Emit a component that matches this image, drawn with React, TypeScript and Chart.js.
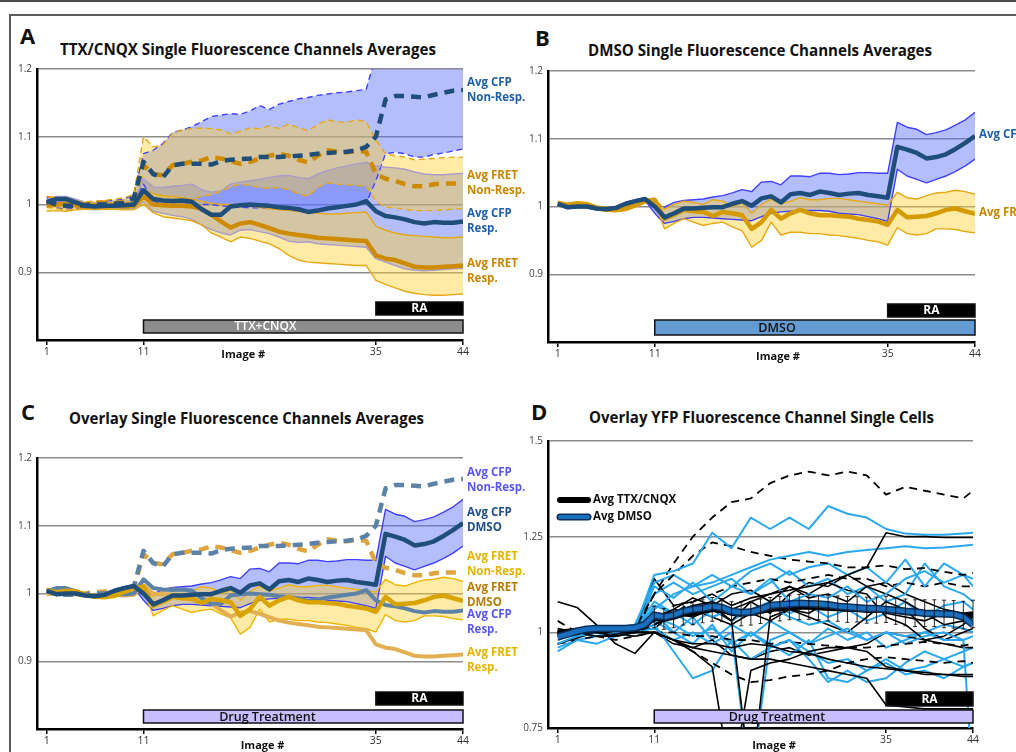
import React, { useEffect, useLayoutEffect, useRef } from 'react';
import { Chart, registerables } from 'chart.js';

Chart.register(...registerables);

const FONT = '"Open Sans", "Noto Sans", sans-serif';
Chart.defaults.font.family = FONT;

// ---------- categories / ticks ----------
const IMAGES = [1,2,3,4,5,6,7,8,9,10,11,12,13,14,15,16,17,18,19,20,21,22,23,24,25,26,27,28,29,30,31,32,33,34,35,36,37,38,39,40,41,42,43,44];
const CELL_IMAGES = [1,3,5,7,9,11,13,15,17,19,21,23,25,27,29,31,33,35,37,39,41,43,44];
const X_TICKS = [1, 11, 35, 44];
const Y_TICKS_AVG = [0.9, 1, 1.1, 1.2];
const Y_TICKS_CELLS = [0.75, 1, 1.25, 1.5];
const DRUG_START = 11;
const RA_START = 35;
const LAST_IMAGE = 44;

// ---------- Panel A: TTX/CNQX averages ----------
const A_CFP_NR = [1.005,1.0,0.998,0.998,0.999,1.0,1.0,1.001,1.002,1.01, 1.063,1.045,1.04,1.058,1.06,1.06,1.06,1.059,1.064,1.066, 1.067,1.068,1.07,1.07,1.07,1.071,1.072,1.073,1.075,1.076, 1.077,1.078,1.08,1.085,1.1,1.155,1.16,1.16,1.159,1.158, 1.162,1.165,1.168,1.169];
const A_CFP_NR_HI = [1.01,1.008,1.006,1.004,1.003,1.004,1.005,1.006,1.008,1.015, 1.075,1.08,1.09,1.106,1.11,1.115,1.122,1.13,1.132,1.134, 1.133,1.138,1.146,1.14,1.148,1.152,1.156,1.158,1.161,1.163, 1.165,1.166,1.168,1.17,1.22,1.23,1.23,1.23,1.23,1.23, 1.23,1.23,1.23,1.23];
const A_CFP_NR_LO = [0.998,0.995,0.993,0.994,0.996,0.997,0.996,0.997,0.997,1.0, 1.03,1.005,1.0,1.0,1.0,1.0,1.0,1.0,0.998,0.997, 0.996,0.995,0.995,0.994,0.993,0.992,0.99,0.99,0.992,0.994, 0.996,0.997,0.999,1.002,1.035,1.075,1.077,1.075,1.07,1.07, 1.074,1.076,1.079,1.082];
const A_FRET_NR = [1.003,1.0,0.998,0.999,1.0,1.002,1.003,1.002,1.004,1.008, 1.058,1.045,1.043,1.058,1.06,1.063,1.065,1.07,1.068,1.064, 1.06,1.063,1.068,1.072,1.075,1.072,1.066,1.062,1.072,1.08, 1.078,1.077,1.079,1.078,1.045,1.038,1.035,1.03,1.027,1.027, 1.03,1.031,1.031,1.031];
const A_FRET_NR_HI = [1.012,1.01,1.008,1.005,1.004,1.005,1.006,1.008,1.01,1.015, 1.1,1.085,1.088,1.105,1.11,1.112,1.113,1.112,1.11,1.104, 1.108,1.113,1.112,1.116,1.112,1.119,1.113,1.109,1.118,1.125, 1.122,1.121,1.125,1.122,1.095,1.075,1.072,1.07,1.066,1.067, 1.068,1.069,1.07,1.07];
const A_FRET_NR_LO = [0.996,0.994,0.992,0.993,0.994,0.995,0.996,0.996,0.996,0.998, 1.0,0.998,1.0,1.001,1.004,1.008,1.012,1.014,1.02,1.026, 1.03,1.028,1.025,1.024,1.025,1.022,1.016,1.012,1.025,1.032, 1.03,1.029,1.028,1.027,1.005,0.996,0.995,0.993,0.991,0.991, 0.991,0.992,0.993,0.994];
const A_CFP_R = [1.003,1.008,1.008,1.003,0.998,0.997,0.998,0.998,0.999,1.0, 1.021,1.008,1.006,1.005,1.006,1.004,0.993,0.985,0.985,0.997, 0.999,1.0,0.999,0.998,0.996,0.995,0.993,0.989,0.991,0.994, 0.996,0.998,1.0,1.005,0.99,0.983,0.981,0.978,0.974,0.972, 0.974,0.973,0.973,0.975];
const A_CFP_R_HI = [1.008,1.012,1.012,1.008,1.003,1.002,1.003,1.003,1.004,1.006, 1.038,1.026,1.025,1.027,1.028,1.03,1.022,1.018,1.02,1.03, 1.033,1.035,1.037,1.04,1.042,1.043,1.04,1.038,1.045,1.05, 1.054,1.057,1.06,1.062,1.057,1.055,1.054,1.052,1.048,1.045, 1.044,1.044,1.045,1.046];
const A_CFP_R_LO = [0.998,1.004,1.004,0.998,0.993,0.992,0.993,0.993,0.994,0.994, 1.004,0.99,0.987,0.984,0.982,0.978,0.97,0.963,0.958,0.955, 0.962,0.963,0.96,0.957,0.952,0.946,0.944,0.945,0.942,0.941, 0.94,0.939,0.938,0.937,0.92,0.915,0.91,0.905,0.903,0.902, 0.903,0.904,0.905,0.906];
const A_FRET_R = [0.999,1.0,1.001,0.999,0.997,0.998,0.997,0.998,0.997,0.998, 1.012,1.0,0.999,0.998,0.998,0.997,0.994,0.985,0.975,0.966, 0.972,0.974,0.97,0.965,0.96,0.957,0.955,0.953,0.951,0.95, 0.949,0.948,0.947,0.946,0.925,0.92,0.918,0.913,0.908,0.907, 0.907,0.908,0.909,0.91];
const A_FRET_R_HI = [1.012,1.01,1.008,1.004,1.002,1.002,1.002,1.003,1.003,1.004, 1.022,1.016,1.013,1.012,1.01,1.008,1.005,1.002,1.0,1.0, 1.0,0.998,0.996,0.994,0.992,0.991,0.99,0.989,0.987,0.986, 0.986,0.987,0.988,0.989,0.968,0.962,0.958,0.955,0.954,0.953, 0.952,0.951,0.951,0.952];
const A_FRET_R_LO = [0.99,0.991,0.99,0.992,0.993,0.993,0.993,0.993,0.992,0.992, 1.0,0.988,0.982,0.98,0.978,0.976,0.97,0.958,0.952,0.945, 0.952,0.95,0.946,0.942,0.935,0.925,0.918,0.915,0.914,0.913, 0.912,0.911,0.91,0.91,0.888,0.882,0.877,0.872,0.869,0.867, 0.866,0.866,0.867,0.868];

// ---------- Panel B: DMSO averages ----------
const B_CFP = [1.004,0.999,1.0,1.0,0.997,0.996,0.998,1.004,1.008,1.011, 1.0,0.984,0.99,0.997,0.997,0.998,0.999,0.999,1.004,1.008, 1.001,1.012,1.015,1.006,1.018,1.02,1.017,1.022,1.02,1.017, 1.019,1.02,1.017,1.015,1.013,1.088,1.084,1.079,1.071,1.073, 1.077,1.085,1.094,1.104];
const B_CFP_HI = [1.006,1.001,1.002,1.002,0.999,0.998,1.0,1.006,1.01,1.013, 1.003,0.999,1.006,1.009,1.01,1.011,1.014,1.016,1.02,1.025, 1.022,1.036,1.037,1.032,1.045,1.045,1.044,1.049,1.049,1.047, 1.048,1.05,1.05,1.049,1.049,1.124,1.117,1.114,1.106,1.109, 1.113,1.12,1.128,1.139];
const B_CFP_LO = [1.002,0.997,0.998,0.998,0.995,0.994,0.996,1.002,1.006,1.009, 0.99,0.975,0.978,0.982,0.984,0.984,0.983,0.982,0.981,0.98, 0.979,0.985,0.99,0.992,0.993,0.994,0.994,0.994,0.993,0.99, 0.989,0.988,0.985,0.982,0.978,1.055,1.045,1.04,1.035,1.04, 1.045,1.052,1.06,1.07];
const B_FRET = [1.005,1.002,1.004,1.003,0.998,0.996,0.995,0.997,1.002,1.008, 1.01,0.982,0.988,0.995,0.993,0.992,0.986,0.992,0.99,0.987, 0.967,0.977,0.995,0.982,0.99,0.995,0.99,0.987,0.987,0.986, 0.985,0.982,0.98,0.978,0.973,0.995,0.984,0.985,0.986,0.99, 0.995,0.997,0.993,0.989];
const B_FRET_HI = [1.008,1.005,1.007,1.006,1.001,0.999,0.998,1.0,1.005,1.011, 1.012,0.996,1.003,1.008,1.006,1.003,1.01,1.008,1.0,1.005, 0.99,1.003,1.011,1.004,1.008,1.013,1.01,1.01,1.012,1.012, 1.01,1.008,1.006,1.004,1.002,1.021,1.013,1.011,1.016,1.02, 1.021,1.024,1.022,1.018];
const B_FRET_LO = [1.002,0.999,1.001,1.0,0.995,0.993,0.992,0.994,0.999,1.005, 1.006,0.967,0.975,0.982,0.977,0.972,0.975,0.977,0.97,0.964, 0.94,0.95,0.977,0.958,0.962,0.962,0.96,0.96,0.958,0.957, 0.955,0.953,0.95,0.948,0.943,0.969,0.96,0.958,0.96,0.967, 0.967,0.966,0.963,0.961];

// ---------- Panel D: YFP single cells ----------
const D_AVG_TTX = [1.0,1.002,1.004,1.006,1.008,1.008,1.008,1.008,1.01,1.015, 1.04,1.035,1.04,1.048,1.05,1.055,1.06,1.058,1.05,1.048, 1.05,1.055,1.06,1.062,1.065,1.066,1.066,1.065,1.063,1.062, 1.06,1.06,1.058,1.058,1.06,1.055,1.052,1.05,1.05,1.05, 1.048,1.047,1.045,1.048];
const D_ERR_TTX = [0.008,0.008,0.008,0.008,0.008,0.008,0.008,0.009,0.009,0.01, 0.028,0.027,0.028,0.029,0.03,0.03,0.031,0.03,0.03,0.031, 0.031,0.032,0.031,0.032,0.032,0.033,0.032,0.032,0.033,0.033, 0.034,0.033,0.034,0.034,0.034,0.034,0.035,0.035,0.035,0.035, 0.036,0.036,0.036,0.036];
const D_AVG_DMSO = [0.988,0.995,1.003,1.008,1.01,1.01,1.01,1.01,1.012,1.02, 1.045,1.04,1.045,1.055,1.06,1.063,1.068,1.065,1.055,1.052, 1.053,1.06,1.07,1.072,1.074,1.076,1.075,1.074,1.072,1.068, 1.066,1.064,1.062,1.062,1.06,1.058,1.055,1.053,1.05,1.049, 1.048,1.047,1.04,1.02];

const TTX_DASHED_CELLS = [
  [1.0,1.0,1.0,1.0,1.01,1.1,1.18,1.25,1.3,1.34,1.35,1.39,1.41,1.42,1.41,1.42,1.41,1.36,1.38,1.37,1.36,1.35,1.37],
  [0.99,0.995,1.0,1.0,1.0,1.1,1.15,1.2,1.235,1.225,1.21,1.2,1.19,1.185,1.18,1.17,1.17,1.175,1.165,1.168,1.158,1.15,1.155],
  [1.03,1.0,0.99,0.98,0.99,1.0,0.98,0.95,0.92,0.89,0.87,0.875,0.885,0.89,0.9,0.92,0.93,0.935,0.93,0.925,0.92,0.925,0.92],
  [1.0,1.0,1.0,1.0,1.0,1.02,1.05,1.08,1.1,1.12,1.13,1.14,1.13,1.14,1.15,1.14,1.14,1.12,1.13,1.12,1.13,1.12,1.12],
  [0.97,0.98,0.99,0.99,1.0,1.0,1.0,0.99,0.99,0.98,0.98,0.97,0.975,0.97,0.965,0.96,0.96,0.965,0.97,0.975,0.97,0.965,0.97],
];
const TTX_SOLID_CELLS = [
  [1.0,1.0,1.0,0.99,1.0,1.03,1.05,1.07,1.08,1.06,1.08,1.1,1.11,1.12,1.13,1.15,1.17,1.26,1.25,1.25,1.248,1.248,1.248],
  [1.0,1.0,0.99,0.99,1.0,1.0,0.98,0.95,0.91,0.6,0.9,0.92,0.93,0.95,0.96,0.96,0.95,0.91,0.9,0.89,0.89,0.885,0.885],
  [1.01,1.0,1.0,1.0,1.01,1.04,1.06,1.05,1.07,1.03,0.6,1.04,1.06,1.05,1.08,1.06,1.07,1.05,1.04,1.03,1.05,1.04,1.05],
  [1.0,1.0,1.0,1.0,1.0,1.0,0.98,0.96,0.95,0.94,0.93,0.93,0.92,0.91,0.9,0.89,0.88,0.81,0.805,0.8,0.8,0.8,0.8],
  [1.08,1.065,1.02,0.97,0.945,1.0,0.98,0.97,0.97,0.96,0.97,0.965,0.95,0.945,0.93,0.92,0.91,0.905,0.9,0.895,0.89,0.89,0.89],
  [0.97,0.985,1.0,0.995,1.0,1.14,1.07,1.08,1.1,1.07,1.09,1.1,1.12,1.09,1.1,1.08,1.12,1.1,1.08,1.05,1.02,1.03,1.04],
  [1.0,0.995,1.0,1.005,1.01,1.03,1.06,1.09,1.07,1.1,1.11,1.08,1.12,1.1,1.13,1.11,1.1,1.04,1.02,0.98,0.99,1.02,1.04],
  [0.99,0.995,1.0,1.0,1.0,1.02,1.04,1.06,1.04,1.02,1.05,1.03,1.06,1.04,1.02,1.0,1.04,1.08,1.06,1.01,0.98,1.0,1.01],
  [1.0,1.0,1.0,0.995,0.99,1.0,0.97,0.96,0.98,0.94,0.93,0.95,0.96,0.94,0.95,0.96,0.97,1.0,0.99,0.98,0.97,0.96,0.96],
  [1.0,1.0,1.0,1.0,1.005,1.01,1.05,1.04,1.06,1.03,1.08,1.05,1.1,1.13,1.12,1.15,1.12,1.13,1.1,1.08,1.06,1.05,1.05],
];
const DMSO_CELLS = [
  [0.98,1.0,1.01,1.0,1.01,1.15,1.16,1.18,1.26,1.22,1.3,1.27,1.3,1.27,1.33,1.31,1.3,1.27,1.258,1.255,1.255,1.258,1.26],
  [1.0,1.0,1.0,1.01,1.02,1.06,1.1,1.12,1.13,1.15,1.17,1.19,1.2,1.21,1.2,1.21,1.215,1.22,1.225,1.22,1.222,1.226,1.229],
  [0.97,0.99,1.0,1.0,1.02,1.13,1.15,1.12,1.15,1.12,1.16,1.18,1.15,1.17,1.18,1.15,1.17,1.13,1.19,1.12,1.18,1.15,1.14],
  [0.95,0.98,0.97,0.99,1.0,1.12,1.09,1.13,1.08,1.12,1.1,1.14,1.08,1.1,1.09,1.12,1.08,1.1,1.14,1.16,1.13,1.15,1.12],
  [1.0,1.0,0.99,1.0,1.0,1.02,0.95,0.88,0.9,0.98,0.93,0.96,0.98,0.95,0.92,0.93,0.9,0.93,0.9,0.91,0.93,0.91,0.92],
  [1.0,0.99,1.0,1.0,1.0,1.01,0.98,1.0,0.97,1.0,0.6,0.98,1.0,0.97,0.99,1.01,0.98,1.0,0.97,0.99,1.0,0.98,0.99],
  [0.98,1.0,1.0,1.0,1.01,1.08,1.05,1.07,1.04,1.06,1.05,1.07,1.04,1.02,1.03,1.0,0.98,1.0,0.99,1.0,0.98,0.98,0.6],
  [0.97,0.99,1.0,0.99,1.0,1.05,1.0,0.97,1.02,0.95,1.0,0.97,0.94,0.98,0.88,0.87,0.9,0.92,0.89,0.9,0.88,0.91,0.92],
  [1.0,1.01,1.0,1.01,1.02,1.1,1.13,1.1,1.12,1.14,1.1,1.13,1.16,1.12,1.14,1.1,1.12,1.08,1.1,1.18,1.12,1.1,1.08],
  [0.96,0.98,0.99,1.0,1.0,1.03,1.0,1.04,0.98,1.02,0.99,1.03,1.0,0.97,1.01,0.98,1.0,0.96,0.98,1.0,1.02,1.01,1.0],
  [0.99,1.0,1.01,1.0,1.0,1.07,1.05,1.02,1.06,1.03,1.06,1.08,1.05,1.07,1.04,1.06,1.03,1.05,1.08,1.04,1.07,1.08,1.06],
  [1.0,0.99,1.0,1.0,1.0,1.04,1.02,0.99,1.01,0.97,1.0,0.96,0.98,0.93,0.87,0.9,0.87,0.88,0.92,0.95,0.93,0.95,0.96],
];

// ---------- styles ----------
const NAVY = '#1f4e7a';
const GOLD = '#cf8b00';
const GOLD_THIN = '#e6a815';
const BLUE_EDGE = '#4040ff';
const LAVENDER = '#a99cc8';
const BLUE_FILL = 'rgba(90,110,250,0.45)';
const YELLOW_FILL = 'rgba(255,208,40,0.42)';
const SLATE = '#5d82a8';
const LIGHT_GOLD = '#e2b052';
const CELL_BLUE = '#2aa8f0';
const DMSO_AVG = '#1a70bf';

function pts(values: number[], xs: number[] = IMAGES) {
  return values.map((v, i) => ({ x: xs[i], y: v }));
}

function line(values: number[], color: string, width: number, extra: any = {}, xs: number[] = IMAGES) {
  return {
    data: pts(values, xs),
    borderColor: color,
    backgroundColor: color,
    borderWidth: width,
    pointRadius: 0,
    tension: 0,
    fill: false,
    clip: 0,
    borderJoinStyle: 'round',
    ...extra,
  };
}

function band(hi: number[], lo: number[], edge: string, fillColor: string, width: number, dash: number[] = []) {
  return [
    line(hi, edge, width, { fill: '+1', backgroundColor: fillColor, borderDash: dash }),
    line(lo, edge, width, { borderDash: dash }),
  ];
}

function axes(min: number, max: number, yTicks: number[]) {
  return {
    x: {
      type: 'linear',
      min: 0,
      max: LAST_IMAGE,
      afterBuildTicks: (s: any) => { s.ticks = X_TICKS.map((v) => ({ value: v })); },
      afterFit: (s: any) => { s.height = 20; },
      border: { display: true, color: '#000', width: 2.5 },
      grid: { drawOnChartArea: false, drawTicks: true, tickLength: 5, color: '#000', lineWidth: 1.5 },
      ticks: { font: { size: 10.5 }, color: '#333', padding: 1, maxRotation: 0, autoSkip: false },
    },
    y: {
      type: 'linear',
      min,
      max,
      afterBuildTicks: (s: any) => { s.ticks = yTicks.map((v) => ({ value: v })); },
      afterFit: (s: any) => { s.width = 37; },
      border: { display: true, color: '#000', width: 2.5 },
      grid: { color: '#8c8c8c', lineWidth: 1.5, drawTicks: false },
      ticks: { font: { size: 10 }, color: '#444', padding: 5, callback: (v: number) => String(Math.round(v * 100) / 100) },
    },
  };
}

function decor(spec: any) {
  return {
    id: 'decor',
    afterDatasetsDraw(chart: any) {
      const { ctx, chartArea: a, scales } = chart;
      const x = scales.x, y = scales.y;
      ctx.save();
      // error bars
      (spec.errorBars || []).forEach((eb: any) => {
        ctx.strokeStyle = '#111';
        ctx.lineWidth = 0.9;
        IMAGES.forEach((xv, i) => {
          if (xv < eb.from) return;
          const px = x.getPixelForValue(xv);
          const yt = y.getPixelForValue(eb.mean[i] + eb.err[i]);
          const yb = y.getPixelForValue(eb.mean[i] - eb.err[i]);
          ctx.beginPath();
          ctx.moveTo(px, yt); ctx.lineTo(px, yb);
          ctx.moveTo(px - 2, yt); ctx.lineTo(px + 2, yt);
          ctx.moveTo(px - 2, yb); ctx.lineTo(px + 2, yb);
          ctx.stroke();
        });
      });
      // treatment bars
      (spec.bars || []).forEach((b: any) => {
        const x0 = x.getPixelForValue(b.from);
        const x1 = x.getPixelForValue(b.to);
        const top = a.bottom + b.top;
        ctx.fillStyle = b.fill;
        ctx.fillRect(x0, top, x1 - x0, b.h);
        ctx.strokeStyle = '#111';
        ctx.lineWidth = 1.5;
        ctx.strokeRect(x0, top, x1 - x0, b.h);
        ctx.fillStyle = b.color;
        ctx.font = `${b.weight || 600} ${b.size || 12}px ${FONT}`;
        ctx.textAlign = 'center';
        ctx.textBaseline = 'middle';
        const tx = b.textAt != null ? x.getPixelForValue(b.textAt) : (x0 + x1) / 2;
        ctx.fillText(b.text, tx, top + b.h / 2 + 0.5);
      });
      // end labels
      (spec.labels || []).forEach((lb: any) => {
        const yv = lb.series[lb.series.length - 1];
        const cy = y.getPixelForValue(yv) + (lb.dy || 0);
        ctx.fillStyle = lb.color;
        ctx.font = `bold 11.5px ${FONT}`;
        ctx.textAlign = 'left';
        ctx.textBaseline = 'middle';
        const n = lb.lines.length;
        lb.lines.forEach((t: string, k: number) => ctx.fillText(t, a.right + 4, cy + (k - (n - 1) / 2) * 15));
      });
      // axis title
      ctx.fillStyle = '#111';
      ctx.font = `bold 11px ${FONT}`;
      ctx.textAlign = 'center';
      ctx.textBaseline = 'middle';
      ctx.fillText('Image #', x.getPixelForValue(spec.titleAt), a.bottom + spec.titleDy);
      // legend
      (spec.legend || []).forEach((lg: any, k: number) => {
        const lx = a.left + 12, ly = a.top + 59 + k * 17;
        ctx.lineCap = 'round';
        if (lg.outline) {
          ctx.strokeStyle = lg.outline; ctx.lineWidth = 7;
          ctx.beginPath(); ctx.moveTo(lx, ly); ctx.lineTo(lx + 28, ly); ctx.stroke();
        }
        ctx.strokeStyle = lg.color; ctx.lineWidth = lg.outline ? 4 : 6;
        ctx.beginPath(); ctx.moveTo(lx, ly); ctx.lineTo(lx + 28, ly); ctx.stroke();
        ctx.fillStyle = '#111';
        ctx.font = `bold 11.5px ${FONT}`;
        ctx.textAlign = 'left';
        ctx.fillText(lg.text, lx + 33, ly);
      });
      ctx.restore();
    },
  };
}

function buildConfig(datasets: any[], yMin: number, yMax: number, yTicks: number[], padding: any, spec: any) {
  return {
    type: 'line',
    data: { datasets },
    options: {
      responsive: false,
      maintainAspectRatio: false,
      animation: false,
      events: [],
      layout: { padding },
      plugins: {
        legend: { display: false },
        tooltip: { enabled: false },
        filler: { drawTime: 'beforeDatasetsDraw', propagate: false },
      },
      scales: axes(yMin, yMax, yTicks),
    },
    plugins: [decor(spec)],
  };
}

function padFor(box: any, area: any) {
  return {
    left: area.l - box.left - 37,
    top: area.t - box.top,
    right: box.left + box.w - area.r,
    bottom: box.top + box.h - area.b - 20,
  };
}

const RA_BAR = { from: RA_START, to: LAST_IMAGE, top: -38, h: 13, fill: '#000', color: '#fff', text: 'RA', weight: 700 };

function chartA(box: any) {
  const ds = [
    line(A_CFP_NR, NAVY, 4.5, { borderDash: [10, 7] }),
    line(A_CFP_R, NAVY, 4.5),
    line(A_FRET_NR, GOLD, 4.5, { borderDash: [10, 7] }),
    line(A_FRET_R, GOLD, 4.5),
    ...band(A_FRET_R_HI, A_FRET_R_LO, GOLD_THIN, YELLOW_FILL, 1.4),
    ...band(A_FRET_NR_HI, A_FRET_NR_LO, GOLD_THIN, YELLOW_FILL, 1.4, [6, 4]),
    ...band(A_CFP_R_HI, A_CFP_R_LO, LAVENDER, BLUE_FILL, 1.4),
    ...band(A_CFP_NR_HI, A_CFP_NR_LO, BLUE_EDGE, BLUE_FILL, 1.4, [6, 4]),
  ];
  const spec = {
    bars: [RA_BAR, { from: DRUG_START, to: LAST_IMAGE, top: -20, h: 13, fill: '#8c8c8c', color: '#fff', text: 'TTX+CNQX', textAt: 23.6 }],
    labels: [
      { lines: ['Avg CFP', 'Non-Resp.'], color: '#2060aa', series: A_CFP_NR, dy: 0 },
      { lines: ['Avg FRET', 'Non-Resp.'], color: '#c98600', series: A_FRET_NR, dy: 0 },
      { lines: ['Avg CFP', 'Resp.'], color: '#2060aa', series: A_CFP_R, dy: 0 },
      { lines: ['Avg FRET', 'Resp.'], color: '#c98600', series: A_FRET_R, dy: 6 },
    ],
    titleAt: 21.3, titleDy: 15,
  };
  return buildConfig(ds, 0.8, 1.2, Y_TICKS_AVG, padFor(box, { l: 37, t: 69, r: 463, b: 340 }), spec);
}

function chartB(box: any) {
  const ds = [
    line(B_CFP, NAVY, 4.5),
    line(B_FRET, '#d49a00', 4.5),
    ...band(B_FRET_HI, B_FRET_LO, GOLD_THIN, YELLOW_FILL, 1.4),
    ...band(B_CFP_HI, B_CFP_LO, BLUE_EDGE, BLUE_FILL, 1.4),
  ];
  const spec = {
    bars: [RA_BAR, { from: DRUG_START, to: LAST_IMAGE, top: -22, h: 15, fill: '#649bd2', color: '#111', text: 'DMSO', textAt: 23.6, size: 12.5 }],
    labels: [
      { lines: ['Avg CFP'], color: '#2060aa', series: B_CFP, dy: -1 },
      { lines: ['Avg FRET'], color: '#c98600', series: B_FRET, dy: -1 },
    ],
    titleAt: 23.7, titleDy: 15,
  };
  return buildConfig(ds, 0.8, 1.2, Y_TICKS_AVG, padFor(box, { l: 548, t: 71, r: 975, b: 342 }), spec);
}

function chartC(box: any) {
  const ds = [
    line(B_CFP, NAVY, 4.5),
    line(B_FRET, '#d9a300', 4.5),
    line(A_CFP_R, SLATE, 4),
    line(A_FRET_R, LIGHT_GOLD, 4),
    line(A_CFP_NR, SLATE, 4.5, { borderDash: [10, 7] }),
    line(A_FRET_NR, '#dfa640', 4.5, { borderDash: [10, 7] }),
    ...band(B_FRET_HI, B_FRET_LO, '#f0b500', YELLOW_FILL, 1.4),
    ...band(B_CFP_HI, B_CFP_LO, BLUE_EDGE, BLUE_FILL, 1.4),
  ];
  const spec = {
    bars: [{ ...RA_BAR, top: -37 }, { from: DRUG_START, to: LAST_IMAGE, top: -19, h: 13, fill: '#c8beff', color: '#111', text: 'Drug Treatment', textAt: 23.8, size: 12.5 }],
    labels: [
      { lines: ['Avg CFP', 'Non-Resp.'], color: '#5858f0', series: A_CFP_NR, dy: 1 },
      { lines: ['Avg CFP', 'DMSO'], color: '#1f4e8c', series: B_CFP, dy: -3 },
      { lines: ['Avg FRET', 'Non-Resp.'], color: '#e6b400', series: A_FRET_NR, dy: -8 },
      { lines: ['Avg FRET', 'DMSO'], color: '#b87a00', series: B_FRET, dy: -6 },
      { lines: ['Avg CFP', 'Resp.'], color: '#5858f0', series: A_CFP_R, dy: 12 },
      { lines: ['Avg FRET', 'Resp.'], color: '#e6b400', series: A_FRET_R, dy: 6 },
    ],
    titleAt: 23.3, titleDy: 17,
  };
  return buildConfig(ds, 0.8, 1.2, Y_TICKS_AVG, padFor(box, { l: 37, t: 458, r: 463, b: 729 }), spec);
}

function chartD(box: any) {
  const cells: any[] = [];
  const n = Math.max(DMSO_CELLS.length, TTX_SOLID_CELLS.length);
  for (let i = 0; i < n; i++) {
    if (TTX_SOLID_CELLS[i]) cells.push(line(TTX_SOLID_CELLS[i], '#000', 1.6, {}, CELL_IMAGES));
    if (DMSO_CELLS[i]) cells.push(line(DMSO_CELLS[i], CELL_BLUE, 2, {}, CELL_IMAGES));
    if (TTX_DASHED_CELLS[i]) cells.push(line(TTX_DASHED_CELLS[i], '#000', 1.8, { borderDash: [8, 6] }, CELL_IMAGES));
  }
  const ds = [
    line(D_AVG_DMSO, DMSO_AVG, 4.5),
    line(D_AVG_DMSO, '#0b2f5a', 7.5),
    line(D_AVG_TTX, '#000', 5.5),
    ...cells,
  ];
  const spec = {
    errorBars: [{ mean: D_AVG_TTX, err: D_ERR_TTX, from: DRUG_START }],
    bars: [{ ...RA_BAR, top: -36, h: 14 }, { from: DRUG_START, to: LAST_IMAGE, top: -18, h: 13, fill: '#c8beff', color: '#111', text: 'Drug Treatment', textAt: 23.7, size: 12.5 }],
    legend: [
      { text: 'Avg TTX/CNQX', color: '#000' },
      { text: 'Avg DMSO', color: DMSO_AVG, outline: '#0b2f5a' },
    ],
    titleAt: 23.4, titleDy: 18,
  };
  return buildConfig(ds, 0.75, 1.5, Y_TICKS_CELLS, padFor(box, { l: 548, t: 441, r: 973, b: 728 }), spec);
}

function ChartPanel({ box, build }: any) {
  const ref = useRef<HTMLCanvasElement>(null);
  useEffect(() => {
    const chart = new Chart(ref.current as any, build(box) as any);
    return () => chart.destroy();
  }, []);
  return (
    <canvas
      ref={ref}
      width={box.w}
      height={box.h}
      style={{ position: 'absolute', left: box.left, top: box.top, width: box.w, height: box.h }}
    />
  );
}

function FitText({ text, left, capTop, width, size }: any) {
  const ref = useRef<HTMLSpanElement>(null);
  useLayoutEffect(() => {
    const el = ref.current;
    if (!el) return;
    el.style.transform = 'none';
    const w = el.getBoundingClientRect().width;
    if (w > 0 && width) el.style.transform = `scaleX(${width / w})`;
  }, []);
  return (
    <span
      ref={ref}
      style={{
        position: 'absolute', left, top: capTop - 0.174 * size, fontSize: size, fontWeight: 700,
        lineHeight: 1, whiteSpace: 'nowrap', transformOrigin: '0 0', fontFamily: FONT, color: '#111',
      }}
    >
      {text}
    </span>
  );
}

const BOX_A = { left: 0, top: 16, w: 530, h: 360 };
const BOX_B = { left: 511, top: 16, w: 505, h: 360 };
const BOX_C = { left: 0, top: 380, w: 530, h: 372 };
const BOX_D = { left: 511, top: 380, w: 505, h: 372 };

export default function App() {
  return (
    <div style={{ position: 'absolute', left: 0, top: 0, width: 1016, height: 752, background: '#fff', overflow: 'hidden', fontFamily: FONT }}>
      <div style={{ position: 'absolute', left: 0, top: 0, width: 1016, height: 2, background: '#4a4a4a' }} />
      <div style={{ position: 'absolute', left: 9, top: 14, width: 1007, height: 2, background: '#5c5c5c' }} />
      <div style={{ position: 'absolute', left: 9, top: 14, width: 2, height: 738, background: '#5c5c5c' }} />

      <FitText text="A" left={20} capTop={28} size={22} />
      <FitText text="B" left={535} capTop={30} size={22} />
      <FitText text="C" left={21} capTop={404} size={22} />
      <FitText text="D" left={531} capTop={404} size={22} />

      <FitText text="TTX/CNQX Single Fluorescence Channels Averages" left={60} capTop={43.5} width={376} size={16} />
      <FitText text="DMSO Single Fluorescence Channels Averages" left={588} capTop={45} width={344} size={16} />
      <FitText text="Overlay Single Fluorescence Channels Averages" left={69} capTop={412.7} width={355} size={16} />
      <FitText text="Overlay YFP Fluorescence Channel Single Cells" left={589} capTop={412} width={345} size={16} />

      <ChartPanel box={BOX_A} build={chartA} />
      <ChartPanel box={BOX_B} build={chartB} />
      <ChartPanel box={BOX_C} build={chartC} />
      <ChartPanel box={BOX_D} build={chartD} />
    </div>
  );
}
